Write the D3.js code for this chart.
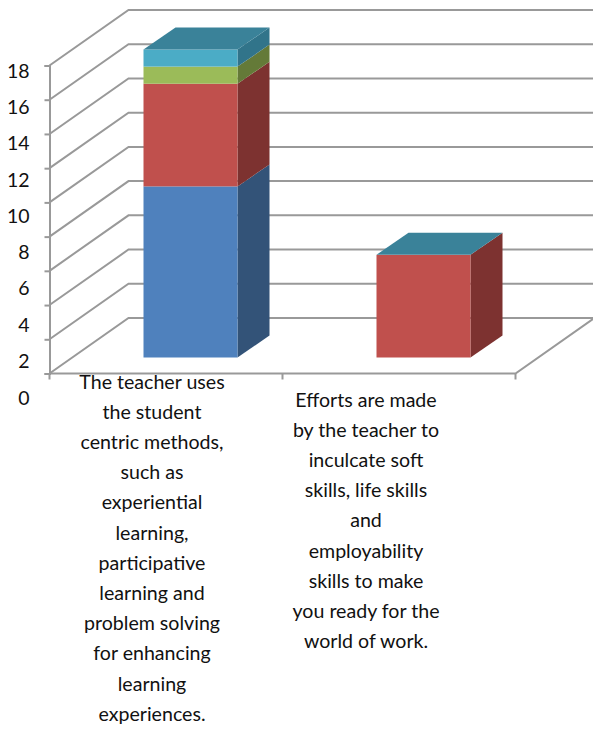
<!DOCTYPE html>
<html>
<head>
<meta charset="utf-8">
<script src="https://cdn.jsdelivr.net/npm/d3@7/dist/d3.min.js"></script>
<style>html,body{margin:0;padding:0;background:#fff}svg{display:block}</style>
</head>
<body>
<svg id="c" width="593" height="729"></svg>
<script>
const categories = ["first", "second"];
const labelLines = [
  ["The teacher uses","the student","centric methods,","such as","experiential","learning,","participative","learning and","problem solving","for enhancing","learning","experiences."],
  ["Efforts are made","by the teacher to","inculcate soft","skills, life skills","and","employability","skills to make","you ready for the","world of work."]
];
const seriesNames = ["s1","s2","s3","s4"];
const series1 = [10, 0];
const series2 = [6, 6];
const series3 = [1, 0];
const series4 = [1, 0];
const yTicks = [0,2,4,6,8,10,12,14,16,18];
const frontColors = ["#4f81bd","#c0504d","#9bbb59","#4bacc6"];
const sideColors = ["#335378","#7d3230","#647a38","#31748a"];
const topColor = "#3a8299";
const gridColor = "#999999";
const font = "Lato, 'Open Sans', sans-serif";

const svg = d3.select("#c");
const y = d3.scaleLinear().domain([0,18]).range([373.5,65.5]);
// tick labels are spaced wider than the ticks in the reference
const yLabel = d3.scaleLinear().domain([0,18]).range([404,77]);
const x = d3.scaleBand().domain(categories).range([49.5,515.5]);
const wallDx = 79, wallDy = -55.5;
const barFrontDx = 24.5, barFrontDy = -16, barDx = 32, barDy = -22, barW = 94;

// gridlines and walls
const grid = svg.append("g").attr("fill","none").attr("stroke",gridColor).attr("stroke-width",2);
yTicks.forEach(t => {
  grid.append("path").attr("d", d3.line()([
    [x.range()[0], y(t)],
    [x.range()[0]+wallDx, y(t)+wallDy],
    [620, y(t)+wallDy]
  ]));
});
grid.append("path").attr("d", d3.line()([
  [x.range()[0], y(0)], [x.range()[1], y(0)], [x.range()[1]+wallDx, y(0)+wallDy]
]));
categories.forEach(c => {
  grid.append("line").attr("x1",x(c)).attr("x2",x(c)).attr("y1",y(0)).attr("y2",y(0)+6);
});
grid.append("line").attr("x1",x.range()[1]).attr("x2",x.range()[1]).attr("y1",y(0)).attr("y2",y(0)+6);

// y axis
const axis = d3.axisLeft(y).tickValues(yTicks).tickSize(5).tickPadding(15);
const gy = svg.append("g").attr("transform",`translate(${x.range()[0]},0)`).call(axis);
gy.select(".domain").attr("stroke",gridColor).attr("stroke-width",2);
gy.selectAll(".tick line").attr("stroke",gridColor).attr("stroke-width",2);
gy.selectAll(".tick text").attr("font-family",font).attr("font-size",19.5).attr("fill","#111")
  .attr("dy",0).attr("y",d => yLabel(d)-y(d));

// stacked 3D bars
const rows = categories.map((c,i)=>({c, s1:series1[i], s2:series2[i], s3:series3[i], s4:series4[i]}));
const stacked = d3.stack().keys(seriesNames)(rows);
const poly = pts => pts.map(p=>p.join(",")).join(" ");
const bars = svg.append("g");
categories.forEach((c,i) => {
  const fx = x(c) + (x.bandwidth()-barW)/2 + barFrontDx;
  let topVal = 0;
  stacked.forEach((layer,k) => {
    const d = layer[i];
    if (d[1]-d[0] <= 0) return;
    topVal = d[1];
    const yb = y(d[0])+barFrontDy, yt = y(d[1])+barFrontDy;
    bars.append("polygon").attr("fill",sideColors[k]).attr("points",poly([
      [fx+barW,yb],[fx+barW+barDx,yb+barDy],[fx+barW+barDx,yt+barDy],[fx+barW,yt]
    ]));
    bars.append("rect").attr("x",fx).attr("y",yt).attr("width",barW).attr("height",yb-yt).attr("fill",frontColors[k]);
  });
  const yt = y(topVal)+barFrontDy;
  bars.append("polygon").attr("fill",topColor).attr("points",poly([
    [fx,yt],[fx+barDx,yt+barDy],[fx+barW+barDx,yt+barDy],[fx+barW,yt]
  ]));
});

// category labels
const labelCx = [152, 366], labelY = [388.5, 406.5];
labelLines.forEach((lines,i) => {
  const t = svg.append("text").attr("text-anchor","middle").attr("font-family",font)
    .attr("font-size",19.6).attr("fill","#111");
  lines.forEach((s,j) => t.append("tspan").attr("x",labelCx[i]).attr("y",labelY[i]+j*30.2).text(s));
});
</script>
</body>
</html>
